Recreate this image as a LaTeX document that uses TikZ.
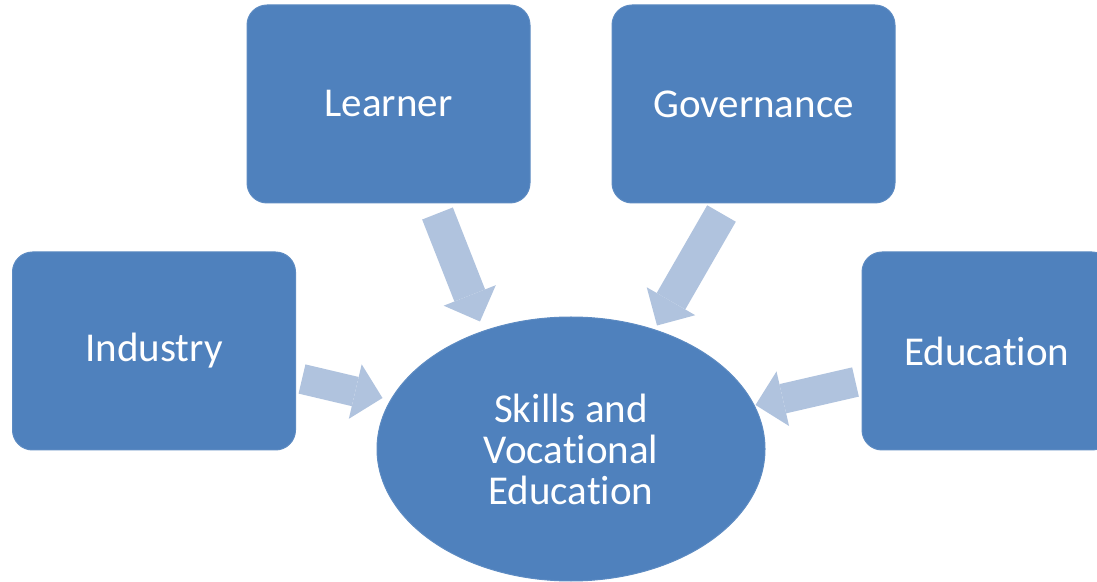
\documentclass[tikz,border=0pt]{standalone}
\usepackage{fontspec}
\setmainfont[RawFeature={-liga;-clig;-calt;-dlig}]{Carlito}
\usepackage{tikz}
\usetikzlibrary{arrows.meta}
\usetikzlibrary{positioning}
\usetikzlibrary{shapes.geometric}
\definecolor{boxblue}{HTML}{4F81BD}
\definecolor{arrowblue}{HTML}{B0C3DE}

\begin{document}
\begin{tikzpicture}[x=1pt,y=1pt,
		sidebox/.style={rectangle, rounded corners=20pt, fill=boxblue, draw=boxblue!92!white, line width=1pt, text=white, minimum width=283pt, minimum height=198pt, font=\fontsize{41}{42}\selectfont},
		hub/.style={ellipse, fill=boxblue, draw=boxblue!92!white, line width=1pt, text=white, minimum width=388pt, minimum height=264pt, inner sep=0pt, align=center, font=\fontsize{41}{41}\selectfont},
		feed/.style={draw=arrowblue, line width=33pt, -{Triangle[width=56pt,length=28pt,line width=0pt]}}]
		\clip (0,0) rectangle (1097,581);
		
		% boxes around the hub
		\node[sidebox] (learner) at (388.5,477) {Learner};
		\node[sidebox] (governance) at (753.5,477) {Governance};
		\node[sidebox] (industry) at (154,230) {Industry};
		\node[sidebox, minimum width=250pt] (education) at (987,230) {Education};
		
		% central ellipse
		\node[hub] (skills) at (571,132) {Skills and\\Vocational\\Education};
		
		% block arrows pointing in
		\draw[feed] ([shift={(49,-10)}]learner.south) -- ([shift={(-91,-5)}]skills.north);
		\draw[feed] ([shift={(-32,-10)}]governance.south) -- ([shift={(86,-9)}]skills.north);
		\draw[feed, line width=30pt] ([shift={(6,-28)}]industry.east) -- ([shift={(6,51)}]skills.west);
		\draw[feed, line width=30pt] ([shift={(-6,-31)}]education.west) -- ([shift={(-10,44)}]skills.east);
	\end{tikzpicture}
\end{document}
